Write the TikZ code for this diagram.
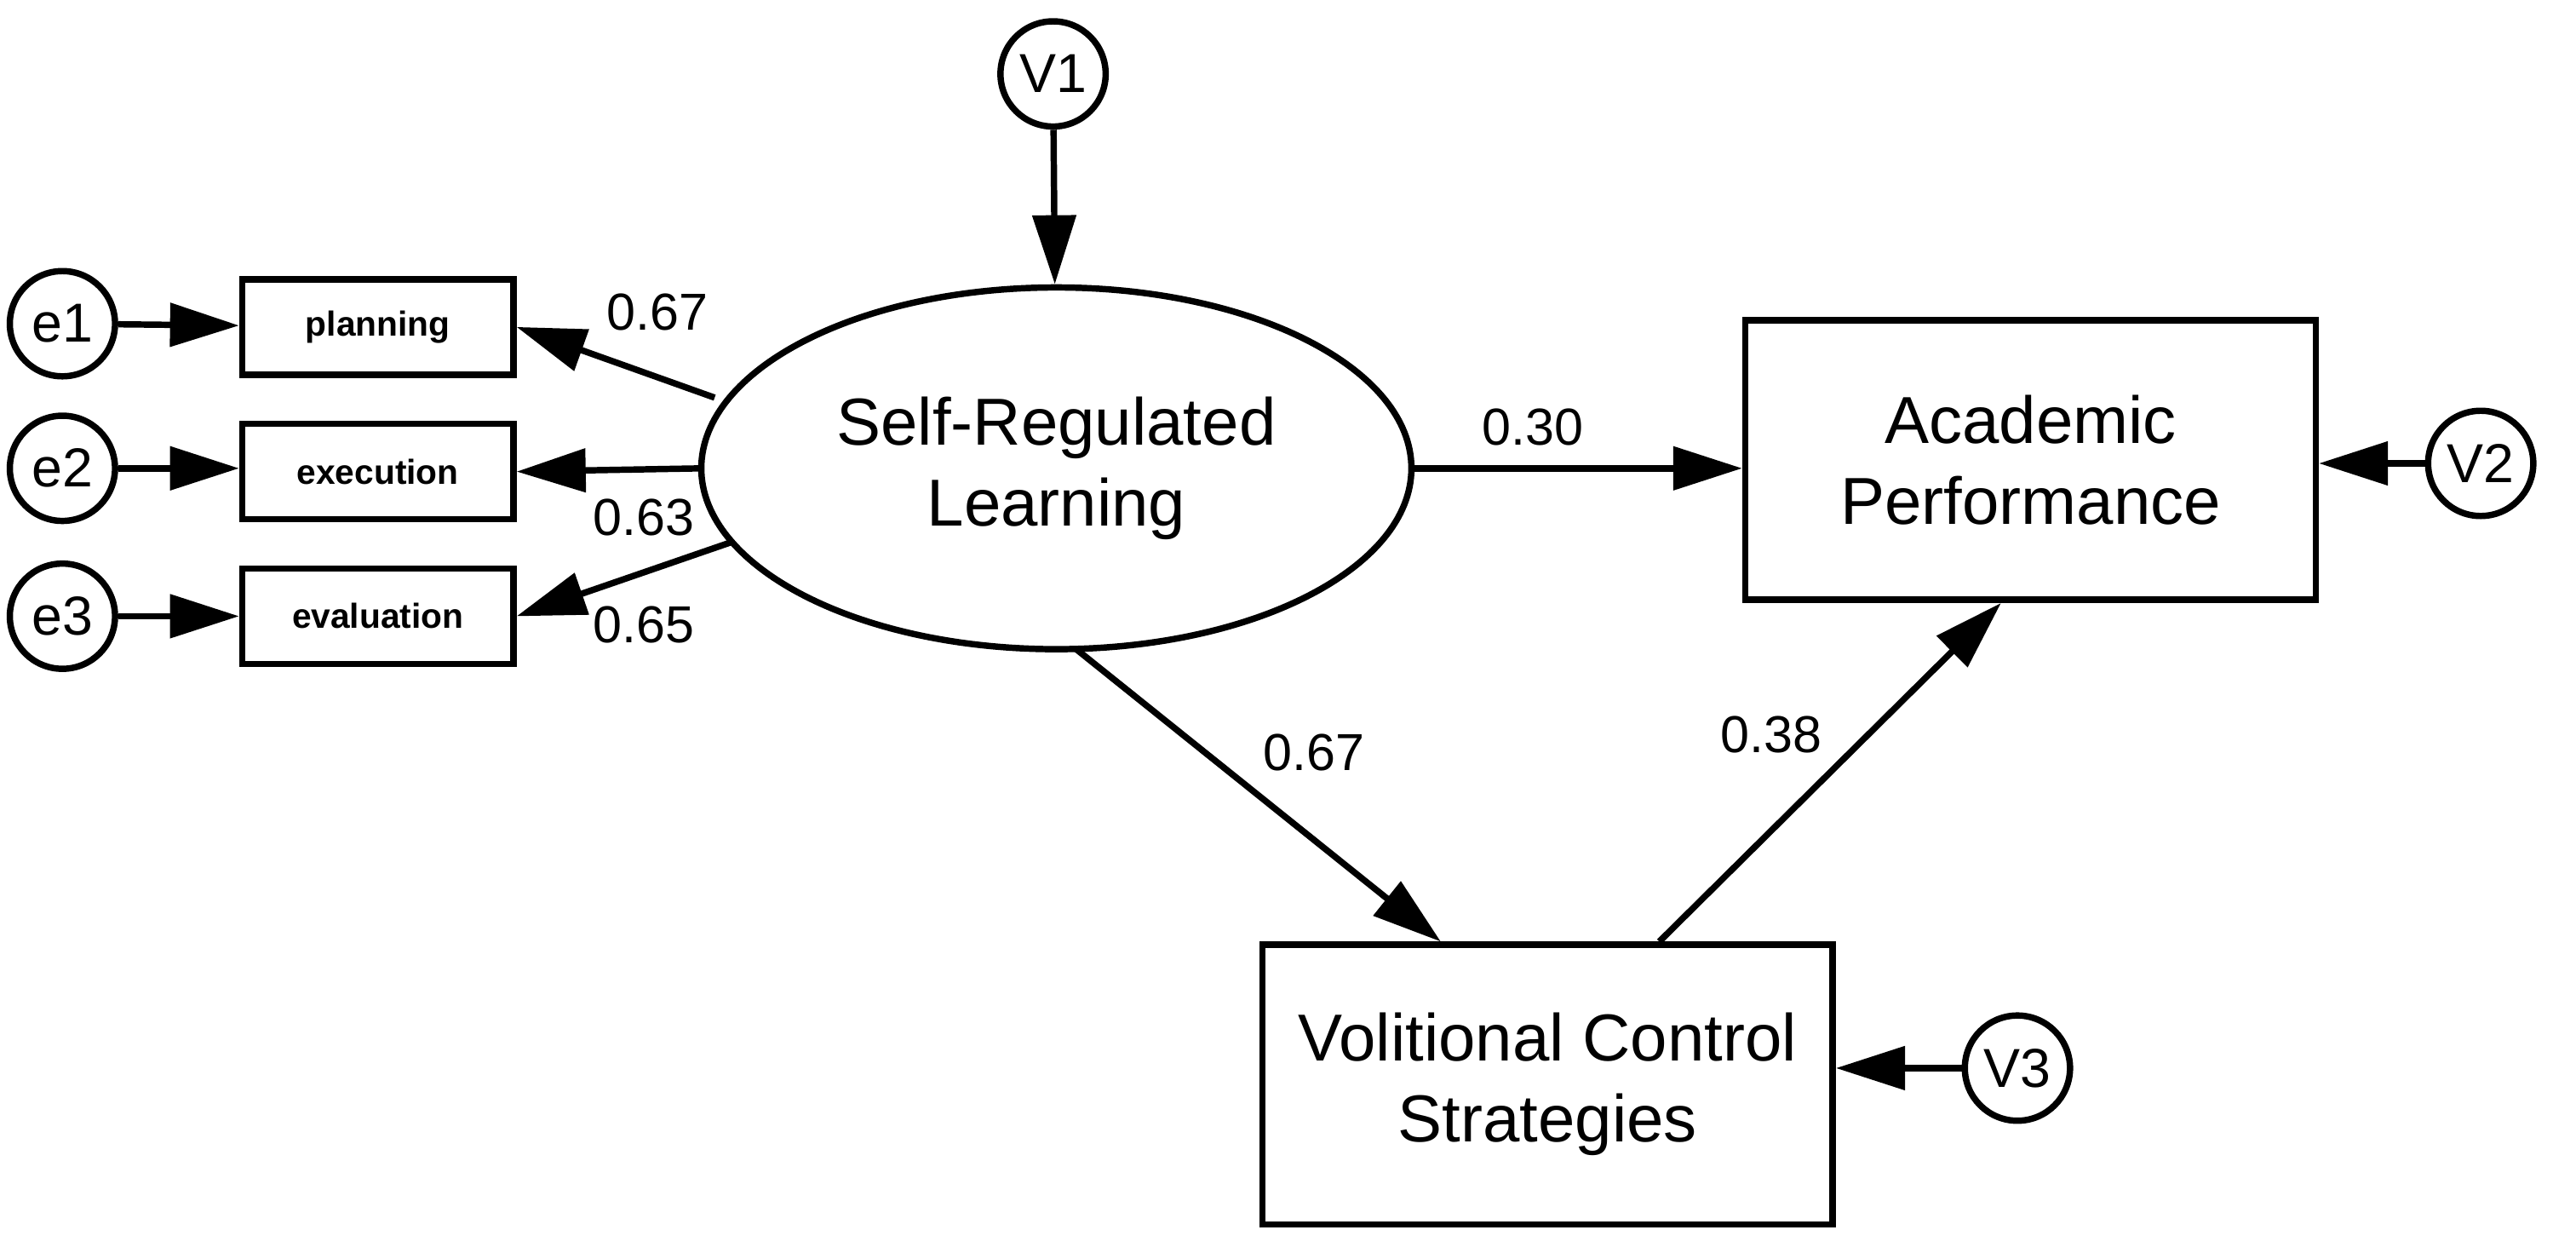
\documentclass[tikz,border=0pt]{standalone}
\usepackage{fontspec}
\setmainfont{Liberation Sans}
\usetikzlibrary{arrows.meta,shapes.geometric}
\begin{document}
\begin{tikzpicture}[x=0.01cm,y=-0.01cm,
  arr/.style={line width=1.1pt,-{Triangle[length=0.42cm,width=0.26cm]}},
  err/.style={circle,draw,line width=1.1pt,minimum size=0.64cm,inner sep=0pt,font=\fontsize{9.5}{10}\selectfont},
  obs/.style={rectangle,draw,line width=1.1pt,minimum width=1.65cm,minimum height=0.58cm,inner sep=0pt,font=\fontsize{6}{7}\selectfont\bfseries},
  big/.style={rectangle,draw,line width=1.1pt,minimum width=3.47cm,minimum height=1.7cm,align=center,font=\fontsize{11.5}{14}\selectfont},
  lab/.style={font=\fontsize{9}{10}\selectfont}]
\useasboundingbox (0,0) rectangle (1568,762);
\node[err] (v1) at (641,45) {V1};
\node[ellipse,draw,line width=1.1pt,minimum width=4.32cm,minimum height=2.2cm,align=center,font=\fontsize{11.5}{14}\selectfont] (srl) at (643,285) {Self-Regulated\\Learning};
\node[obs] (pl) at (230,199) {planning};
\node[obs] (ex) at (230,287) {execution};
\node[obs] (ev) at (230,375) {evaluation};
\node[err] (e1) at (38,197) {e1};
\node[err] (e2) at (38,285) {e2};
\node[err] (e3) at (38,375) {e3};
\node[big] (ap) at (1236,280) {Academic\\Performance};
\node[err] (v2) at (1510,282) {V2};
\node[big] (vcs) at (942,660) {Volitional Control\\Strategies};
\node[err] (v3) at (1228,650) {V3};
\coordinate (s1) at (435,242);
\coordinate (s2) at (428,285);
\coordinate (s3) at (445,330);
\draw[arr] (v1) -- (srl);
\draw[arr] (e1) -- (pl);
\draw[arr] (e2) -- (ex.west |- e2);
\draw[arr] (e3) -- (ev);
\draw[arr] (s1) -- (pl.east);
\draw[arr] (s2) -- (ex.east);
\draw[arr] (s3) -- (ev.east);
\draw[arr] (srl.east) -- (ap.west |- srl.east);
\draw[arr] (655,395) -- (vcs.north -| 877,0);
\draw[arr] (vcs.north -| 1010,0) -- (ap.south -| 1218,0);
\draw[arr] (v2) -- (ap.east |- v2);
\draw[arr] (v3) -- (vcs.east |- v3);
\node[lab] at (400,190) {0.67};
\node[lab] at (392,315) {0.63};
\node[lab] at (392,380) {0.65};
\node[lab] at (933,260) {0.30};
\node[lab] at (800,458) {0.67};
\node[lab] at (1078,447) {0.38};
\end{tikzpicture}
\end{document}
